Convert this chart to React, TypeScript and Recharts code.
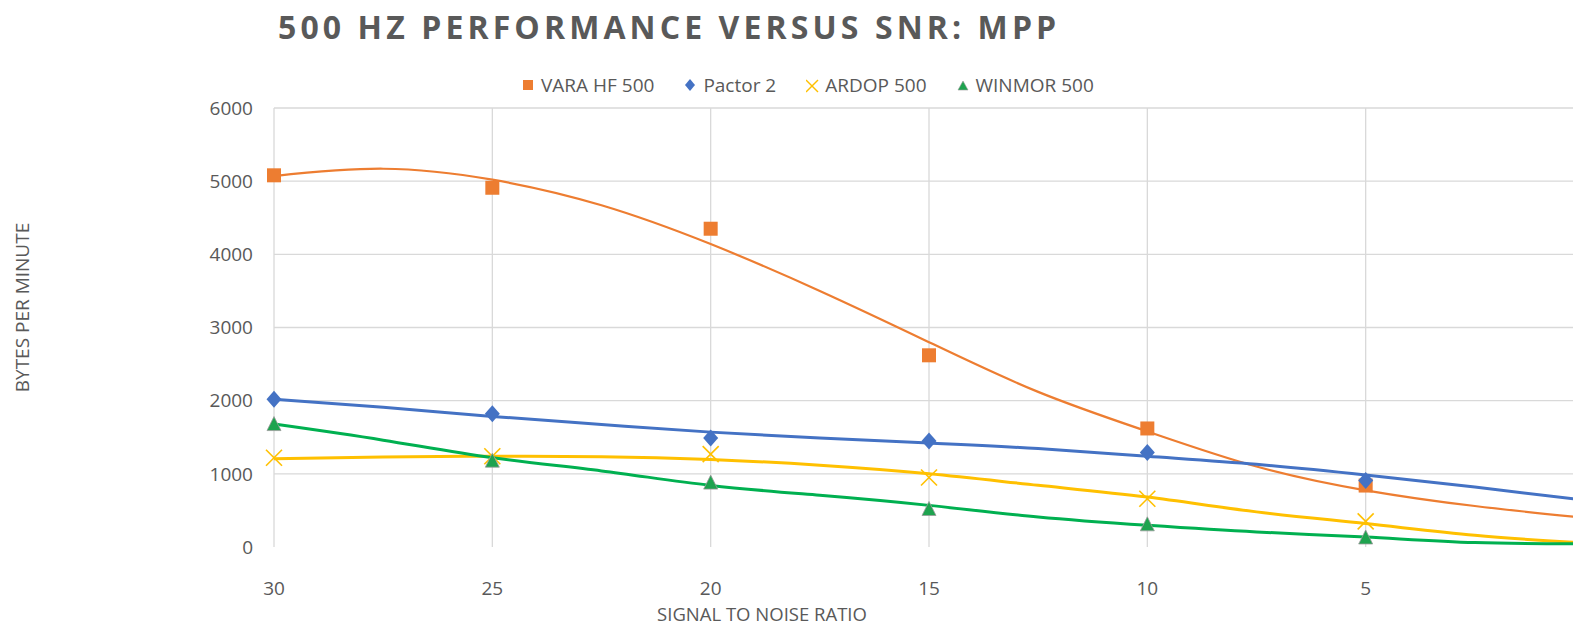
import React from "react";
import {
  ComposedChart,
  Line,
  Scatter,
  XAxis,
  YAxis,
  CartesianGrid,
} from "recharts";

// measured points (SNR in dB)
const snrPoints = [30, 25, 20, 15, 10, 5];
const varaHf500 = [5080, 4910, 4350, 2620, 1620, 840];
const pactor2 = [2020, 1820, 1490, 1450, 1290, 910];
const ardop500 = [1220, 1240, 1270, 950, 660, 350];
const winmor500 = [1680, 1180, 880, 520, 310, 130];

// trendlines
const snrFit = [30, 27.5, 25, 22.5, 20, 17.5, 15, 12.5, 10, 7.5, 5, 2.5, 0];
const varaFit = [5070, 5170, 5020, 4670, 4140, 3500, 2800, 2120, 1580, 1100, 775, 560, 400];
const pactorFit = [2020, 1910, 1785, 1675, 1570, 1490, 1420, 1345, 1240, 1130, 985, 820, 640];
const ardopFit = [1205, 1230, 1240, 1235, 1196, 1117, 1000, 844, 682, 480, 320, 160, 55];
const winmorFit = [1680, 1460, 1220, 1040, 842, 707, 569, 410, 296, 205, 136, 60, 45];

const xTicks = [30, 25, 20, 15, 10, 5];
const yTicks = [0, 1000, 2000, 3000, 4000, 5000, 6000];

const points = (vals: number[]) => snrPoints.map((snr, i) => ({ snr, value: vals[i] }));
const fit = (vals: number[]) => snrFit.map((snr, i) => ({ snr, value: vals[i] }));

const ORANGE = "#ED7D31";
const BLUE = "#4472C4";
const YELLOW = "#FFC000";
const GREEN = "#00B050";
const TEXT = "#595959";
const FONT = "'Open Sans', sans-serif";

const SquareDot = (p: any) => (
  <rect x={p.cx - 7} y={p.cy - 7} width={14} height={14} fill={ORANGE} />
);
const DiamondDot = (p: any) => (
  <path d={`M${p.cx},${p.cy - 8.5} L${p.cx + 7.5},${p.cy} L${p.cx},${p.cy + 8.5} L${p.cx - 7.5},${p.cy} Z`} fill={BLUE} />
);
const CrossDot = (p: any) => (
  <g stroke={YELLOW} strokeWidth={1.6}>
    <line x1={p.cx - 8} y1={p.cy - 8} x2={p.cx + 8} y2={p.cy + 8} />
    <line x1={p.cx - 8} y1={p.cy + 8} x2={p.cx + 8} y2={p.cy - 8} />
  </g>
);
const TriangleDot = (p: any) => (
  <path d={`M${p.cx},${p.cy - 7.5} L${p.cx + 7},${p.cy + 6.5} L${p.cx - 7},${p.cy + 6.5} Z`} fill="#1EA34F" stroke="#9a9a9a" strokeWidth={0.8} />
);

// x tick labels sit well below the plot, like the Excel original
const XTick = (p: any) => (
  <text x={p.x} y={p.y + 27} dy="0.71em" textAnchor="middle" fill={TEXT} fontSize={19} fontFamily={FONT}>
    {p.payload.value}
  </text>
);

const legendItems = [
  { name: "VARA HF 500", icon: <rect x={1} y={1} width={10} height={10} fill={ORANGE} /> },
  { name: "Pactor 2", icon: <path d="M6,0 L11,6 L6,12 L1,6 Z" fill={BLUE} /> },
  {
    name: "ARDOP 500",
    icon: (
      <g stroke={YELLOW} strokeWidth={1.4}>
        <line x1={0} y1={1} x2={12} y2={13} />
        <line x1={0} y1={13} x2={12} y2={1} />
      </g>
    ),
  },
  { name: "WINMOR 500", icon: <path d="M6,2 L11,11 L1,11 Z" fill="#1EA34F" stroke="#9a9a9a" strokeWidth={0.6} /> },
];

export default function App() {
  return (
    <div
      style={{
        position: "fixed",
        left: 0,
        top: 0,
        width: 1573,
        height: 627,
        overflow: "hidden",
        background: "#fff",
        fontFamily: FONT,
        color: TEXT,
      }}
    >
      <div
        style={{
          position: "absolute",
          left: 278,
          top: 11,
          fontSize: 32,
          lineHeight: 1,
          fontWeight: 700,
          letterSpacing: 4.1,
          whiteSpace: "nowrap",
        }}
      >
        500 HZ PERFORMANCE VERSUS SNR: MPP
      </div>

      <div
        style={{
          position: "absolute",
          left: 522,
          top: 76,
          display: "flex",
          fontSize: 19,
          lineHeight: 1,
          whiteSpace: "nowrap",
        }}
      >
        {legendItems.map((item) => (
          <div key={item.name} style={{ display: "flex", alignItems: "center", marginRight: 30 }}>
            <svg width={14} height={14} style={{ marginRight: 5 }}>
              {item.icon}
            </svg>
            <span>{item.name}</span>
          </div>
        ))}
      </div>

      <div
        style={{
          position: "absolute",
          left: -128,
          top: 298,
          width: 300,
          height: 19,
          lineHeight: "19px",
          fontSize: 19,
          textAlign: "center",
          transform: "rotate(-90deg)",
          whiteSpace: "nowrap",
        }}
      >
        BYTES PER MINUTE
      </div>

      <div
        style={{
          position: "absolute",
          left: 562,
          top: 605,
          width: 400,
          fontSize: 18.5,
          lineHeight: 1,
          textAlign: "center",
          whiteSpace: "nowrap",
        }}
      >
        SIGNAL TO NOISE RATIO
      </div>

      <div style={{ position: "absolute", left: 0, top: 0 }}>
        <ComposedChart width={1600} height={627} margin={{ top: 108, right: 16, bottom: 30, left: 0 }}>
          <CartesianGrid
            stroke="#D9D9D9"
            strokeWidth={1.3}
            horizontalValues={[1000, 2000, 3000, 4000, 5000, 6000]}
            verticalValues={[30, 25, 20, 15, 10, 5, 0]}
          />
          <XAxis
            type="number"
            dataKey="snr"
            domain={[0, 30]}
            reversed
            ticks={xTicks}
            interval={0}
            axisLine={false}
            tickLine={false}
            height={50}
            tick={<XTick />}
          />
          <YAxis
            type="number"
            domain={[0, 6000]}
            ticks={yTicks}
            interval={0}
            width={274}
            axisLine={false}
            tickLine={false}
            tickMargin={15}
            tick={{ fill: TEXT, fontSize: 19, fontFamily: FONT }}
          />
          <Scatter data={points(varaHf500)} dataKey="value" shape={SquareDot} isAnimationActive={false} />
          <Scatter data={points(pactor2)} dataKey="value" shape={DiamondDot} isAnimationActive={false} />
          <Scatter data={points(ardop500)} dataKey="value" shape={CrossDot} isAnimationActive={false} />
          <Scatter data={points(winmor500)} dataKey="value" shape={TriangleDot} isAnimationActive={false} />
          <Line data={fit(varaFit)} dataKey="value" type="natural" stroke={ORANGE} strokeWidth={2.2} dot={false} activeDot={false} isAnimationActive={false} />
          <Line data={fit(pactorFit)} dataKey="value" type="natural" stroke={BLUE} strokeWidth={3} dot={false} activeDot={false} isAnimationActive={false} />
          <Line data={fit(ardopFit)} dataKey="value" type="natural" stroke={YELLOW} strokeWidth={3} dot={false} activeDot={false} isAnimationActive={false} />
          <Line data={fit(winmorFit)} dataKey="value" type="natural" stroke={GREEN} strokeWidth={3} dot={false} activeDot={false} isAnimationActive={false} />
        </ComposedChart>
      </div>
    </div>
  );
}
